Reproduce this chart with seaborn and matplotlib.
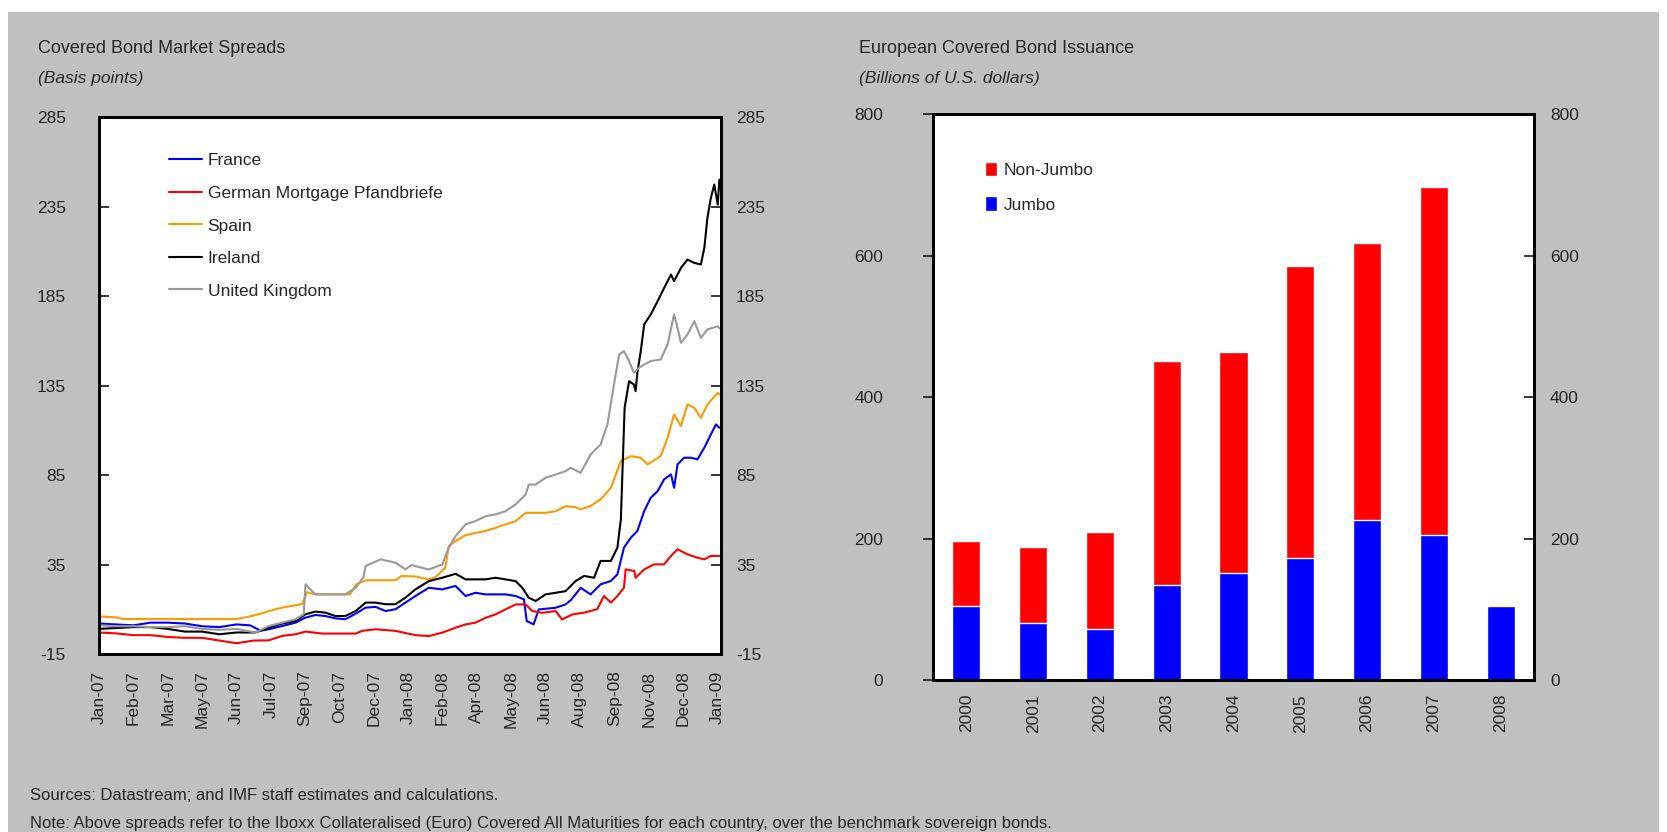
import numpy as np
import pandas as pd
import seaborn as sns
import matplotlib.pyplot as plt
from matplotlib.patches import Patch, Rectangle

# ---- left panel: spreads (x in tick periods, 0 = Jan-07, 18 = Jan-09) ----
month_labels = ['Jan-07', 'Feb-07', 'Mar-07', 'May-07', 'Jun-07', 'Jul-07', 'Sep-07',
                'Oct-07', 'Dec-07', 'Jan-08', 'Feb-08', 'Apr-08', 'May-08', 'Jun-08',
                'Aug-08', 'Sep-08', 'Nov-08', 'Dec-08', 'Jan-09']

france_x = [0, 0.5, 1, 1.5, 2, 2.5, 3, 3.5, 4, 4.4, 4.7, 4.94, 5.33, 5.72, 6.01, 6.3, 6.59,
            6.88, 7.17, 7.47, 7.76, 8.05, 8.34, 8.63, 8.92, 9.21, 9.6, 9.99, 10.38, 10.67,
            10.96, 11.25, 11.54, 11.83, 12.13, 12.37, 12.45, 12.55, 12.65, 12.8, 13.29,
            13.58, 13.73, 13.87, 14.02, 14.31, 14.6, 14.9, 15.09, 15.28, 15.48, 15.67, 15.87,
            16.06, 16.26, 16.45, 16.65, 16.74, 16.84, 17.03, 17.23, 17.42, 17.62, 17.81,
            17.96, 18.06]
france = [2, 1.5, 1, 2.5, 2.5, 2, 0.5, 0, 1.5, 1, -2, -1.2, 0.6, 2.5, 5.3, 6.8, 6.2,
          4.9, 4.4, 7.5, 10.9, 11.3, 9, 10, 13.7, 17.4, 22, 21.1, 23, 17.4,
          19.2, 18.3, 18.3, 18.3, 17.4, 15.5, 3.4, 2.5, 1.5, 9.9, 10.8,
          12.7, 15, 18.3, 22, 18.3, 23.9, 25.8, 29.5, 44.4, 50, 53.7, 64.9,
          72.3, 76, 82.6, 85.4, 77.9, 91, 94.7, 94.7, 93.8, 100.3, 107.7,
          113.3, 111.4]

germany_x = [0, 0.5, 1, 1.5, 2, 2.5, 3, 3.5, 4, 4.5, 4.94, 5.33, 5.72, 6.01, 6.5, 7, 7.47,
             7.66, 8.05, 8.63, 9.21, 9.6, 9.99, 10.38, 10.67, 10.96, 11.25, 11.54, 11.83,
             12.13, 12.42, 12.61, 12.9, 13.29, 13.48, 13.78, 14.12, 14.5, 14.7, 14.9, 15.09,
             15.28, 15.33, 15.58, 15.62, 15.87, 16.16, 16.45, 16.65, 16.84, 17.13, 17.42,
             17.62, 17.81, 18.06]
germany = [-3, -3.5, -4.5, -4.5, -5.5, -6, -6, -7.5, -9, -7.5, -7.4, -4.9, -4, -2.5, -3.6,
           -3.6, -3.6, -2.1, -1.2, -2.1, -4.5, -5, -3.1, -0.3, 1.5, 2.5, 5.2, 7.1, 9.9,
           12.7, 12.7, 9, 8, 9, 4.3, 7.1, 8.1, 10, 17.4, 13.7, 17.4,
           22, 32.3, 31.4, 27.6, 32.3, 35.1, 35.1, 39.8, 43.5, 40.7, 38.8,
           37.9, 39.8, 39.8]

spain_x = [0, 0.5, 0.7, 1, 2, 3, 4, 4.4, 4.8, 4.94, 5.33, 5.72, 5.92, 6.05, 6.3, 6.88, 7.3,
           7.5, 7.76, 8.63, 8.8, 9.21, 9.6, 9.8, 10.08, 10.18, 10.38, 10.67, 10.96, 11.25,
           11.54, 11.83, 12.13, 12.42, 12.71, 13.0, 13.29, 13.58, 13.87, 14.02, 14.31, 14.6,
           14.9, 15.19, 15.48, 15.77, 15.97, 16.35, 16.55, 16.74, 16.94, 17.13, 17.33,
           17.52, 17.71, 18.01, 18.06]
spain = [6, 5.5, 4.5, 4.5, 4.5, 4.5, 4.5, 6, 8, 9, 10.9, 12.2, 13, 19.5, 18.3, 18.3, 18.3,
         24, 26.2, 26.2, 28.6, 28.3, 26.7, 28, 33.2, 45.3, 48.1, 51.4, 52.7, 53.7,
         55.5, 57.4, 59.3, 63.9, 63.9, 63.9, 64.8, 67.6, 67.1, 65.8, 67.7, 71.4,
         77.9, 92.8, 95.6, 94.7, 91, 95.6, 105.8, 118.9, 112.4, 124.5, 122.6,
         117, 124.5, 131, 130]

ireland_x = [0, 0.5, 1, 1.5, 2, 2.5, 3, 3.5, 4, 4.55, 4.94, 5.33, 5.72, 6.01, 6.3, 6.59,
             6.88, 7.17, 7.47, 7.76, 8.05, 8.34, 8.63, 8.92, 9.21, 9.6, 9.99, 10.38, 10.67,
             10.96, 11.25, 11.54, 11.83, 12.13, 12.32, 12.51, 12.71, 13.0, 13.29, 13.58,
             13.87, 14.12, 14.41, 14.6, 14.9, 15.09, 15.19, 15.3, 15.43, 15.57, 15.62, 15.67,
             15.77, 15.87, 16.06, 16.26, 16.45, 16.65, 16.74, 16.94, 17.13, 17.33, 17.52,
             17.62, 17.71, 17.81, 17.91, 18.01, 18.06]
ireland = [-1, -0.5, 0, 0, -1, -2.5, -2.5, -4, -3, -3, -0.3, 2, 3.4, 7.2, 8.7, 8.1,
           6.2, 6.2, 9, 13.7, 13.7, 12.8, 12.8, 16.5, 21.1, 25.7, 27.6, 29.8, 26.7,
           26.7, 26.7, 27.6, 26.7, 25.7, 22, 16.4, 14.6, 18.3, 19.2, 20.1,
           25.7, 28.6, 27.6, 37, 37, 44.4, 60.2, 122.6, 137.5, 135.6, 131.9, 142.2,
           154.3, 169.2, 174.8, 182.2, 189.6, 197.1, 193.4, 200.8, 205.5, 203.6, 202.7,
           212, 228.8, 239.9, 247.4, 236.2, 250.2]

uk_x = [0, 0.5, 1, 1.5, 2, 2.5, 3, 3.5, 4, 4.55, 4.94, 5.33, 5.72, 5.96, 6.01, 6.15, 6.3,
        7.17, 7.47, 7.7, 7.76, 8.2, 8.63, 8.92, 9.1, 9.21, 9.6, 9.99, 10.18, 10.38, 10.67,
        10.96, 11.25, 11.54, 11.83, 12.13, 12.42, 12.51, 12.71, 13.0, 13.29, 13.58, 13.73,
        14.02, 14.31, 14.6, 14.8, 14.99, 15.14, 15.28, 15.43, 15.57, 15.72, 15.87, 16.06,
        16.35, 16.55, 16.74, 16.84, 16.94, 17.13, 17.33, 17.52, 17.71, 18.01, 18.06]
uk = [1, 0.5, 0.5, 0, 0, 0.5, -1, -1.5, -1, -3, 0.6, 2.5, 4.4, 7.2, 24, 21.1, 18.3,
      18.3, 22, 28, 34.2, 37.9, 36, 32.3, 34.7, 34.1, 32.2, 35, 44.4, 50.9, 57.4,
      59.3, 62, 63, 64.8, 68.6, 74.2, 79.7, 79.7, 83.5, 85.3, 87.2, 89.1,
      86.3, 96.5, 102.1, 113.3, 135.6, 152.4, 154.3, 148.7, 142.2, 145, 146.8, 148.7,
      149.6, 158, 174.8, 167.3, 158.9, 163.6, 171, 161.7, 166.4, 168.2, 167]

series_names = ['France', 'German Mortgage Pfandbriefe', 'Spain', 'Ireland', 'United Kingdom']
series_colors = ['#0000ff', '#ff0000', '#ff9900', '#000000', '#999999']

# ---- right panel: issuance ----
years = ['2000', '2001', '2002', '2003', '2004', '2005', '2006', '2007', '2008']
jumbo = [105, 80, 72, 134, 151, 172, 226, 205, 104]
non_jumbo = [91, 108, 137, 317, 313, 413, 392, 492, 0]

FONT = ['Liberation Sans', 'DejaVu Sans']
BG = '#c0c0c0'


def style_spines(ax):
    for sp in ax.spines.values():
        sp.set_linewidth(2)
        sp.set_color('black')


sns.set_style('white')
plt.rcParams['font.family'] = FONT
plt.rcParams['font.size'] = 12.5
plt.rcParams['axes.unicode_minus'] = False

fig = plt.figure(figsize=(16.67, 8.32), dpi=100)
fig.patch.set_facecolor('white')
fig.patches.append(Rectangle((0.005, 0), 0.99, 0.986, transform=fig.transFigure,
                             facecolor=BG, edgecolor='none', zorder=-10))

# left: line chart
frames = []
for name, xs, ys in zip(series_names,
                        [france_x, germany_x, spain_x, ireland_x, uk_x],
                        [france, germany, spain, ireland, uk]):
    frames.append(pd.DataFrame({'t': xs, 'bp': ys, 'series': name}))
df_lines = pd.concat(frames, ignore_index=True)

ax1 = fig.add_axes([0.0594, 0.214, 0.373, 0.645])
sns.lineplot(data=df_lines, x='t', y='bp', hue='series', hue_order=series_names,
             palette=dict(zip(series_names, series_colors)), estimator=None,
             sort=False, linewidth=1.5, ax=ax1)
ax1.set_xlim(0, 18.1)
ax1.set_ylim(-15, 285)
ax1.set_yticks(np.arange(-15, 286, 50))
ax1.set_xticks(np.arange(len(month_labels)))
ax1.set_xticklabels(month_labels, rotation=90)
ax1.set_xlabel('')
ax1.set_ylabel('')
ax1.tick_params(axis='both', direction='in', length=7, width=1.3, labelsize=12.5)
ax1.tick_params(axis='y', pad=24)
ax1.tick_params(axis='x', pad=12)
style_spines(ax1)
ax1.legend(loc='upper left', bbox_to_anchor=(0.088, 0.962), frameon=False,
           handlelength=1.9, handletextpad=0.3, labelspacing=1.0, fontsize=12.5)

ax1r = ax1.twinx()
ax1r.set_ylim(-15, 285)
ax1r.set_yticks(np.arange(-15, 286, 50))
ax1r.tick_params(axis='y', direction='in', length=7, width=1.3, pad=11, labelsize=12.5)
style_spines(ax1r)

fig.text(0.023, 0.936, 'Covered Bond Market Spreads', fontsize=13)
fig.text(0.023, 0.9, '(Basis points)', fontsize=12.5, style='italic')

# right: stacked bars
df_bars = pd.DataFrame({'year': years, 'jumbo': jumbo, 'non_jumbo': non_jumbo})
df_bars['total'] = df_bars['jumbo'] + df_bars['non_jumbo']

ax2 = fig.add_axes([0.5597, 0.1827, 0.3605, 0.680])
sns.barplot(data=df_bars, x='year', y='total', color='#ff0000', width=0.42,
            saturation=1, ax=ax2)
sns.barplot(data=df_bars, x='year', y='jumbo', color='#0000ff', width=0.42,
            saturation=1, ax=ax2)
ax2.set_xlim(-0.5, 8.5)
ax2.set_ylim(0, 800)
ax2.set_yticks(np.arange(0, 801, 200))
ax2.set_xlabel('')
ax2.set_ylabel('')
ax2.set_xticks(np.arange(len(years)))
ax2.set_xticklabels(years, rotation=90)
ax2.set_xticks(np.arange(0.5, 8, 1), minor=True)
ax2.tick_params(axis='x', which='major', length=0, pad=10, labelsize=12.5)
ax2.tick_params(axis='x', which='minor', direction='in', length=7, width=1.3)
ax2.tick_params(axis='y', direction='out', length=7, width=1.3, pad=29, labelsize=12.5)
style_spines(ax2)

ax2r = ax2.twinx()
ax2r.set_ylim(0, 800)
ax2r.set_yticks(np.arange(0, 801, 200))
ax2r.tick_params(axis='y', direction='in', length=7, width=1.3, pad=11.5, labelsize=12.5)
style_spines(ax2r)

handles = [Patch(facecolor='#ff0000', label='Non-Jumbo'),
           Patch(facecolor='#0000ff', label='Jumbo')]
ax2.legend(handles=handles, loc='upper left', bbox_to_anchor=(0.06, 0.944), frameon=False,
           handlelength=0.7, handleheight=0.9, handletextpad=0.4, labelspacing=1.08,
           fontsize=12.5)

fig.text(0.515, 0.936, 'European Covered Bond Issuance', fontsize=13)
fig.text(0.515, 0.9, '(Billions of U.S. dollars)', fontsize=12.5, style='italic')

fig.text(0.018, 0.038, 'Sources: Datastream; and IMF staff estimates and calculations.',
         fontsize=12)
fig.text(0.018, 0.005, 'Note: Above spreads refer to the Iboxx Collateralised (Euro) Covered '
         'All Maturities for each country, over the benchmark sovereign bonds.', fontsize=12)

plt.savefig('out.png', dpi=100, facecolor=fig.get_facecolor())
